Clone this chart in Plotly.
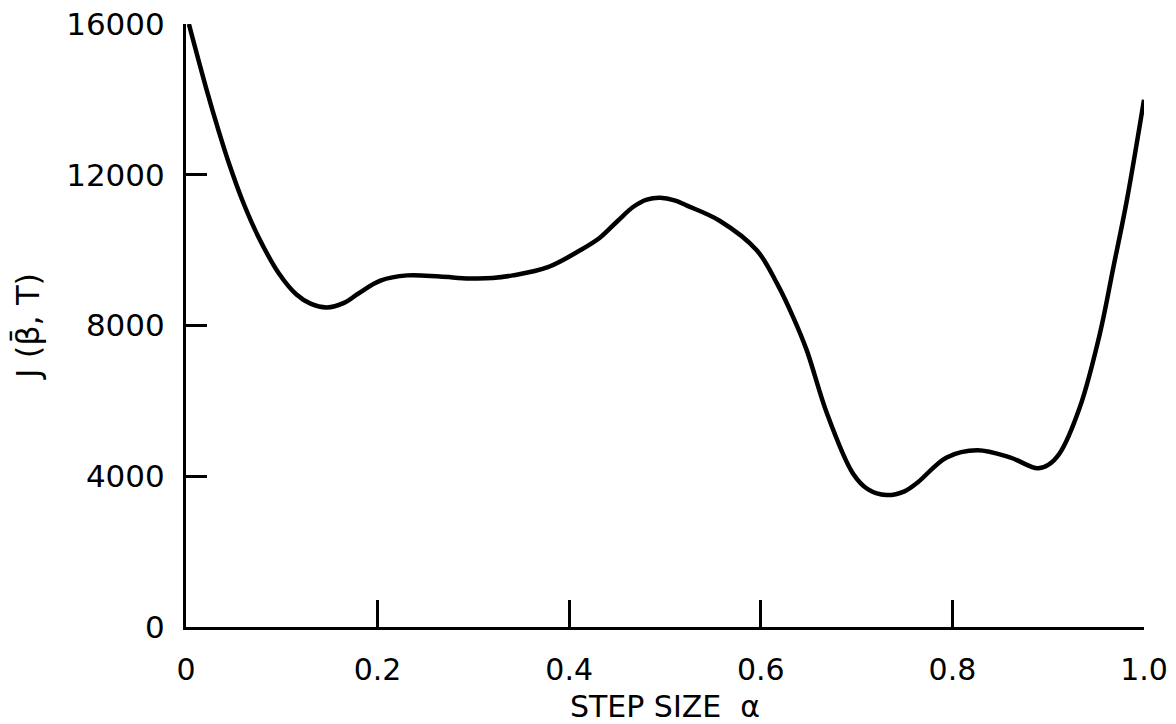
import plotly.graph_objects as go

# Data
alpha = [0.003, 0.021, 0.034, 0.045, 0.059, 0.076, 0.097, 0.115, 0.130,
         0.147, 0.165, 0.180, 0.203, 0.231, 0.265, 0.296, 0.320, 0.341, 0.377,
         0.411, 0.432, 0.450, 0.467, 0.481, 0.495, 0.510, 0.523, 0.557, 0.596,
         0.617, 0.634, 0.648, 0.669, 0.696, 0.712, 0.731, 0.750, 0.763, 0.794,
         0.826, 0.860, 0.889, 0.900, 0.912, 0.933, 0.954, 0.968, 0.982, 1.000]
J = [16000, 14300, 13170, 12290, 11310, 10330, 9380, 8830, 8580,
     8480, 8600, 8850, 9190, 9330, 9300, 9250, 9260, 9330, 9540,
     9990, 10330, 10760, 11150, 11340, 11390, 11320, 11180, 10780, 9990,
     9110, 8210, 7340, 5670, 4080, 3650, 3500, 3600, 3820, 4500,
     4690, 4500, 4210, 4300, 4610, 5830, 7790, 9540, 11310, 13990]

x_tickvals = [0, 0.2, 0.4, 0.6, 0.8, 1.0]
x_ticktext = ["0", "0.2", "0.4", "0.6", "0.8", "1.0"]
y_tickvals = [0, 4000, 8000, 12000, 16000]
y_ticktext = ["0", "4000", "8000", "12000", "16000"]

FONT = "DejaVu Sans"

fig = go.Figure()
fig.add_trace(go.Scatter(
    x=alpha, y=J, mode="lines",
    line=dict(color="black", width=4.5, shape="spline", smoothing=1.0),
    cliponaxis=False, showlegend=False, hoverinfo="skip",
))

fig.update_layout(
    width=1176, height=724,
    margin=dict(l=186, r=32, t=24, b=97),
    paper_bgcolor="white", plot_bgcolor="white",
    font=dict(family=FONT, color="black", size=30),
    xaxis=dict(
        range=[0, 1.0], tickvals=x_tickvals, ticktext=x_ticktext,
        ticks="inside", ticklen=27, tickwidth=3, tickcolor="black",
        showline=True, linecolor="black", linewidth=3,
        showgrid=False, zeroline=False, mirror=False, automargin=False,
        ticklabelstandoff=14,
        tickfont=dict(family=FONT, size=30),
        title=dict(text="STEP SIZE  α", font=dict(family=FONT, size=30), standoff=10),
    ),
    yaxis=dict(
        range=[0, 16000], tickvals=y_tickvals, ticktext=y_ticktext,
        ticks="inside", ticklen=21, tickwidth=3, tickcolor="black",
        showline=True, linecolor="black", linewidth=3,
        showgrid=False, zeroline=False, mirror=False, automargin=False,
        ticklabelstandoff=12,
        tickfont=dict(family=FONT, size=31),
        title=dict(text="J (β̄, T)", font=dict(family=FONT, size=32), standoff=17),
    ),
)

fig.write_html(
    "out.html",
    config={"displayModeBar": False},
    post_script="document.body.style.margin='0';document.body.style.overflow='hidden';",
)
